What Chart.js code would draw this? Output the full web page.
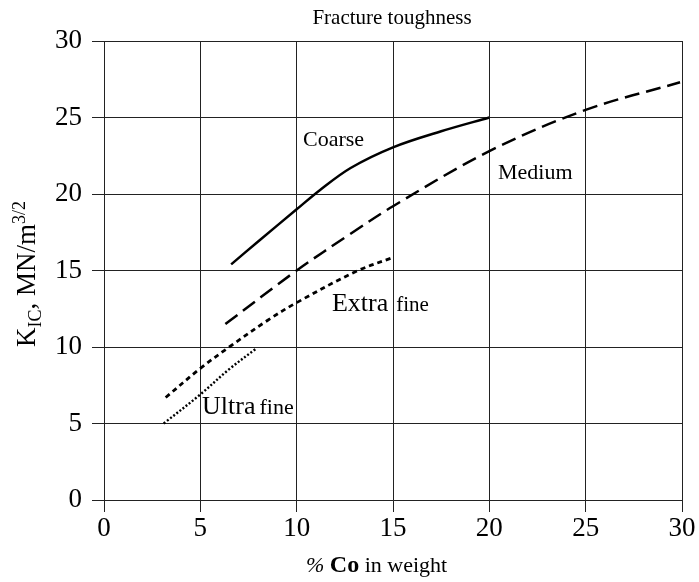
<!DOCTYPE html>
<html>
<head>
<meta charset="utf-8">
<script src="https://cdn.jsdelivr.net/npm/chart.js@4"></script>
<style>
html,body{margin:0;padding:0;background:#fff;}
#wrap{width:699px;height:582px;position:relative;}
</style>
</head>
<body>
<div id="wrap"><canvas id="c" width="699" height="582"></canvas></div>
<script>
// ---- data ----
const coarseX = [6.6, 8.0, 10.0, 11.2, 12.8, 15.0, 17.5, 20.0];
const coarseY = [15.4, 16.9, 19.0, 20.25, 21.7, 23.05, 24.1, 25.0];
const mediumX = [6.3, 10.0, 12.8, 15.0, 20.0, 25.0, 29.9];
const mediumY = [11.5, 15.0, 17.4, 19.2, 22.8, 25.5, 27.3];
const extraX = [3.2, 5.0, 6.5, 8.5, 10.0, 13.1, 15.0];
const extraY = [6.7, 8.6, 10.0, 11.75, 12.9, 14.95, 15.85];
const ultraX = [3.1, 5.0, 6.5, 7.9];
const ultraY = [5.0, 6.9, 8.55, 9.9];
const xTicks = [0, 5, 10, 15, 20, 25, 30];
const yTicks = [0, 5, 10, 15, 20, 25, 30];
const chartTitle = "Fracture toughness";
// curve labels (anchored in data units)
const curveLabels = [
  {parts:[["Coarse", 22]], x:10.33, y:23.16},
  {parts:[["Medium", 22]], x:20.45, y:21.0},
  {parts:[["Extra", 26], ["fine", 21]], x:11.83, y:12.36, gap:8},
  {parts:[["Ultra", 26], ["fine", 22]], x:5.09, y:5.59, gap:4}
];

const pts = (xs, ys) => xs.map((x, i) => ({x, y: ys[i]}));
const serif = "'Liberation Serif','Times New Roman',serif";

const textPlugin = {
  id: 'texts',
  afterDraw(chart) {
    const ctx = chart.ctx;
    const xs = chart.scales.x, ys = chart.scales.y;
    ctx.save();
    ctx.fillStyle = '#000';
    // title
    ctx.font = `21px ${serif}`;
    ctx.textAlign = 'center';
    ctx.textBaseline = 'alphabetic';
    ctx.fillText(chartTitle, 392, 24);
    // curve labels
    ctx.textAlign = 'left';
    curveLabels.forEach(l => {
      let px = xs.getPixelForValue(l.x);
      const py = ys.getPixelForValue(l.y);
      l.parts.forEach((p, i) => {
        ctx.font = `${p[1]}px ${serif}`;
        ctx.fillText(p[0], px, py);
        px += ctx.measureText(p[0]).width + (l.gap || 0);
      });
    });
    // x axis title
    let x = 306; const by = 572;
    ctx.font = `italic 22px ${serif}`;
    ctx.fillText('%', x, by); x += ctx.measureText('% ').width;
    ctx.font = `bold 24px ${serif}`;
    ctx.fillText('Co', x, by); x += ctx.measureText('Co').width;
    ctx.font = `22px ${serif}`;
    ctx.fillText(' in weight', x, by);
    // y axis title (rotated)
    ctx.translate(35, 347);
    ctx.rotate(-Math.PI / 2);
    let t = 0;
    ctx.font = `27px ${serif}`;
    ctx.fillText('K', t, 0); t += ctx.measureText('K').width;
    ctx.font = `18px ${serif}`;
    ctx.fillText('IC', t, 6); t += ctx.measureText('IC').width;
    ctx.font = `27px ${serif}`;
    ctx.fillText(', MN/m', t, 0); t += ctx.measureText(', MN/m').width;
    ctx.font = `18px ${serif}`;
    ctx.fillText('3/2', t, -10);
    ctx.restore();
  }
};

const lineDs = (label, data, dash, width) => ({
  label, data, showLine: true, fill: false,
  borderColor: '#000', borderWidth: width, borderDash: dash,
  borderCapStyle: 'butt', pointRadius: 0, tension: 0.35
});

new Chart(document.getElementById('c'), {
  type: 'scatter',
  data: {
    datasets: [
      lineDs('Coarse', pts(coarseX, coarseY), [], 2.5),
      lineDs('Medium', pts(mediumX, mediumY), [15, 7], 2.5),
      lineDs('Extra fine', pts(extraX, extraY), [5, 4], 2.8),
      lineDs('Ultra fine', pts(ultraX, ultraY), [2, 2], 2.4)
    ]
  },
  options: {
    responsive: false,
    animation: false,
    layout: {padding: {top: 41, right: 17, left: 0, bottom: 0}},
    plugins: {legend: {display: false}, tooltip: {enabled: false}, title: {display: false}},
    scales: {
      x: {
        type: 'linear', min: 0, max: 30,
        afterBuildTicks: s => { s.ticks = xTicks.map(v => ({value: v})); },
        afterFit: s => { s.height = 82; },
        grid: {color: '#222', lineWidth: 1, tickLength: 12, drawTicks: true},
        border: {display: true, color: '#222', width: 1},
        ticks: {color: '#000', font: {family: serif, size: 27}, padding: 1, maxRotation: 0}
      },
      y: {
        type: 'linear', min: 0, max: 30,
        afterBuildTicks: s => { s.ticks = yTicks.map(v => ({value: v})); },
        afterFit: s => { s.width = 104; },
        grid: {color: '#222', lineWidth: 1, tickLength: 12, drawTicks: true},
        border: {display: true, color: '#222', width: 1},
        ticks: {color: '#000', font: {family: serif, size: 27}, padding: 10}
      }
    }
  },
  plugins: [textPlugin]
});
</script>
</body>
</html>
